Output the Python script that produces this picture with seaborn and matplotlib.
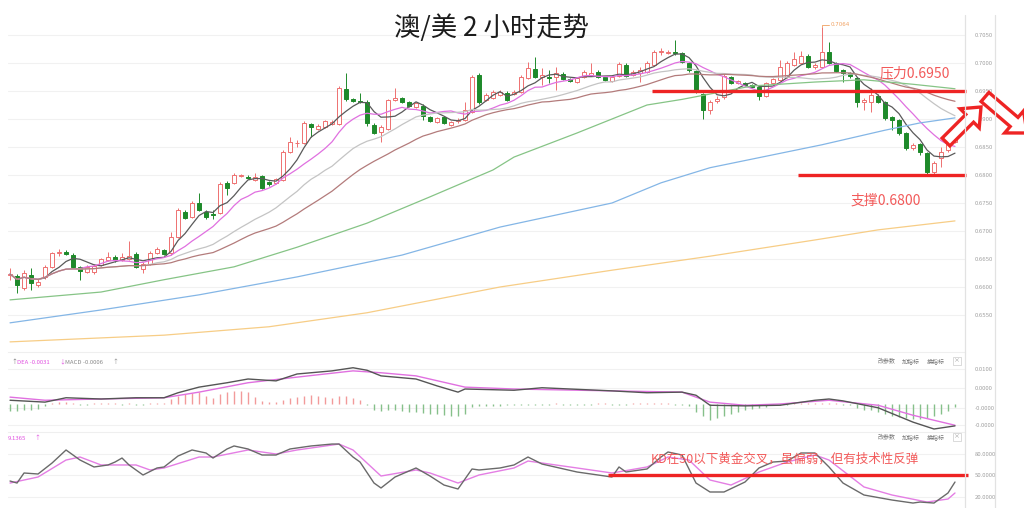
import numpy as np
import pandas as pd
import matplotlib
matplotlib.use("Agg")
import matplotlib.pyplot as plt
import seaborn as sns
from matplotlib.patches import FancyArrow
from matplotlib.lines import Line2D
from matplotlib.transforms import IdentityTransform
from matplotlib.ticker import FixedLocator, FixedFormatter

# ---------------- data ----------------
OPEN = [.6621,.6620,.6598,.6621,.6604,.6618,.6636,.6661,.6663,.6657,
        .6636,.6627,.6627,.6639,.6648,.6654,.6648,.6650,.6659,.6632,
        .6641,.6661,.6666,.6661,.6689,.6734,.6725,.6750,.6734,.6730,
        .6732,.6786,.6786,.6798,.6796,.6791,.6798,.6788,.6786,.6791,
        .6841,.6857,.6857,.6891,.6882,.6886,.6891,.6891,.6954,.6936,
        .6932,.6930,.6889,.6877,.6882,.6934,.6937,.6930,.6921,.6923,
        .6904,.6895,.6904,.6889,.6896,.6898,.6912,.6979,.6934,.6937,
        .6943,.6946,.6945,.6948,.6973,.6989,.6975,.6975,.6975,.6980,
        .6971,.6966,.6975,.6979,.6984,.6975,.6968,.6977,.6996,.6979,
        .6982,.6984,.6996,.7020,.7018,.7020,.7018,.7000,.6986,.6945,
        .6916,.6932,.6939,.6975,.6964,.6964,.6961,.6957,.6941,.6964,
        .6970,.6975,.6996,.7000,.7012,.6993,.6993,.7020,.7000,.6987,
        .6982,.6973,.6930,.6930,.6941,.6930,.6904,.6898,.6875,.6848,
        .6855,.6839,.6805,.6830,.6845,.6859]
CLOSE = [.6623,.6604,.6625,.6607,.6609,.6636,.6661,.6663,.6659,.6636,
         .6629,.6636,.6638,.6650,.6654,.6648,.6654,.6655,.6636,.6641,
         .6661,.6668,.6659,.6689,.6738,.6723,.6750,.6738,.6725,.6729,
         .6784,.6777,.6800,.6800,.6795,.6796,.6777,.6784,.6793,.6841,
         .6859,.6858,.6893,.6886,.6887,.6896,.6895,.6955,.6936,.6932,
         .6930,.6893,.6875,.6886,.6934,.6937,.6930,.6923,.6929,.6905,
         .6896,.6902,.6893,.6895,.6898,.6916,.6975,.6930,.6943,.6948,
         .6948,.6934,.6948,.6975,.6991,.6975,.6979,.6973,.6982,.6971,
         .6968,.6973,.6984,.6982,.6975,.6970,.6975,.6998,.6977,.6984,
         .6987,.7000,.7020,.7021,.7020,.7018,.7002,.6987,.6948,.6916,
         .6930,.6936,.6977,.6964,.6968,.6961,.6957,.6941,.6964,.6971,
         .6993,.7000,.7007,.7012,.6993,.6996,.7020,.7000,.6986,.6982,
         .6977,.6930,.6934,.6943,.6930,.6902,.6898,.6875,.6848,.6854,
         .6841,.6805,.6821,.6841,.6857,.6871]
HIGH = [.6634,.6623,.6630,.6634,.6614,.6639,.6663,.6668,.6666,.6661,
        .6638,.6639,.6641,.6652,.6663,.6657,.6661,.6682,.6663,.6645,
        .6664,.6671,.6668,.6698,.6741,.6738,.6754,.6768,.6738,.6738,
        .6787,.6789,.6804,.6802,.6800,.6804,.6800,.6789,.6795,.6845,
        .6868,.6863,.6896,.6893,.6891,.6898,.6898,.6959,.6982,.6937,
        .6946,.6934,.6893,.6889,.6936,.6955,.6939,.6932,.6930,.6927,
        .6905,.6904,.6905,.6896,.6902,.6930,.6979,.6982,.6946,.6952,
        .6952,.6950,.6952,.6979,.7002,.7011,.6991,.6987,.6993,.6984,
        .6973,.6975,.6987,.7000,.6987,.6977,.6977,.7002,.7000,.6987,
        .6993,.7004,.7023,.7027,.7023,.7041,.7020,.7002,.6987,.6946,
        .6934,.6941,.6980,.6977,.6970,.6966,.6963,.6959,.6966,.6973,
        .7005,.7004,.7020,.7021,.7016,.7000,.7064,.7038,.7002,.6989,
        .6984,.6975,.6937,.6955,.6945,.6932,.6905,.6900,.6877,.6857,
        .6857,.6841,.6825,.6850,.6866,.6879]
LOW = [.6613,.6589,.6595,.6595,.6600,.6614,.6634,.6655,.6657,.6634,
       .6613,.6625,.6623,.6638,.6646,.6645,.6646,.6648,.6634,.6625,
       .6639,.6659,.6657,.6657,.6687,.6721,.6723,.6736,.6721,.6721,
       .6730,.6764,.6784,.6796,.6793,.6789,.6775,.6780,.6784,.6789,
       .6839,.6850,.6855,.6868,.6880,.6884,.6889,.6889,.6932,.6930,
       .6929,.6887,.6873,.6859,.6880,.6932,.6929,.6921,.6920,.6898,
       .6895,.6893,.6891,.6887,.6893,.6896,.6911,.6927,.6932,.6936,
       .6941,.6932,.6943,.6946,.6971,.6973,.6961,.6964,.6952,.6970,
       .6966,.6964,.6973,.6977,.6973,.6968,.6966,.6975,.6975,.6977,
       .6966,.6982,.6995,.7014,.7016,.7014,.7000,.6984,.6946,.6900,
       .6909,.6929,.6936,.6963,.6963,.6959,.6955,.6934,.6939,.6963,
       .6968,.6973,.6995,.6998,.6991,.6989,.6991,.6998,.6984,.6966,
       .6973,.6921,.6916,.6912,.6929,.6898,.6880,.6871,.6845,.6845,
       .6836,.6802,.6800,.6814,.6841,.6857]

# long moving averages (bar index, price)
MA60_IDX = [0, 13, 22, 32, 41, 51, 60, 69, 72, 81, 91, 96, 101, 106, 115, 122, 129, 135]
MA60_VAL = [.6577, .6591, .6613, .6636, .6671, .6714, .6761, .6809, .6832, .6875,
            .6925, .6935, .6947, .6959, .6966, .6970, .6962, .6954]
MA120_IDX = [0, 13, 27, 41, 56, 70, 86, 93, 100, 116, 125, 130, 135]
MA120_VAL = [.6536, .6559, .6586, .6618, .6657, .6707, .6750, .6786, .6813, .6854, .6880, .6893, .6902]
MA250_IDX = [0, 22, 37, 51, 70, 86, 100, 115, 124, 135]
MA250_VAL = [.6502, .6514, .6529, .6554, .6600, .6630, .6655, .6684, .6702, .6718]

# MACD
DIF_IDX = [0, 5, 8, 13, 18, 22, 24, 27, 31, 34, 38, 41, 46, 49, 51, 53, 58, 61, 64, 65, 72, 76,
           86, 91, 96, 98, 100, 105, 110, 115, 117, 119, 124, 129, 132, 135]
DIF_VAL = [0.0006, 0.0003, 0.0010, 0.0008, 0.0010, 0.0010, 0.0018, 0.0027, 0.0034, 0.0040, 0.0037,
           0.0048, 0.0053, 0.0058, 0.0054, 0.0045, 0.0040, 0.0029, 0.0019, 0.0024, 0.0022, 0.0026,
           0.0021, 0.0018, 0.0019, 0.0014, -0.0002, -0.0003, -0.0002, 0.0006, 0.0008, 0.0005,
           -0.0006, -0.0029, -0.0040, -0.0035]
DEA_IDX = [0, 5, 13, 22, 27, 34, 41, 49, 53, 58, 65, 72, 86, 96, 100, 105, 110, 117, 124, 129, 135]
DEA_VAL = [0.0011, 0.0006, 0.0008, 0.0010, 0.0019, 0.0034, 0.0043, 0.0053, 0.0050, 0.0045, 0.0027,
           0.0024, 0.0021, 0.0019, 0.0003, -0.0002, 0.0000, 0.0006, -0.0002, -0.0018, -0.0034]
MACD_HIST = [-0.0011, -0.0011, -0.0010, -0.0010, -0.0008, -0.0003,
             0.0002, 0.0003, 0.0003, 0.0002, -0.0002, -0.0002, 0.0002, 0.0002, 0.0001, 0.0002,
             -0.0001, 0.0001, -0.0002, -0.0002, 0.0001, 0.0002, 0.0002,
             0.0008, 0.0013, 0.0016, 0.0018, 0.0019, 0.0013, 0.0010, 0.0016, 0.0019, 0.0021,
             0.0021, 0.0019, 0.0011, 0.0005, 0.0003, 0.0003, 0.0006, 0.0010, 0.0011, 0.0013,
             0.0014, 0.0013, 0.0011, 0.0010, 0.0013, 0.0013, 0.0010, 0.0006, -0.0002,
             -0.0010, -0.0011, -0.0010, -0.0010, -0.0011, -0.0013, -0.0013, -0.0014, -0.0016,
             -0.0016, -0.0018, -0.0019, -0.0019, -0.0016, -0.0005, -0.0003,
             -0.0003, -0.0003, -0.0003, -0.0002, -0.0002, -0.0002, -0.0001, -0.0002, -0.0002,
             -0.0001, 0.0001, -0.0001, -0.0002, -0.0002, -0.0001, -0.0001, 0.0001, 0.0001,
             -0.0001, -0.0002, -0.0001, 0.0001, 0.0002, 0.0002, 0.0001, 0.0002, 0.0001,
             -0.0001, -0.0002, -0.0003,
             -0.0013, -0.0019, -0.0026, -0.0022, -0.0019, -0.0016, -0.0013, -0.0010, -0.0008,
             -0.0006, -0.0005,
             -0.0002, -0.0002, -0.0001, 0.0001, 0.0002, 0.0002, 0.0002, 0.0002, 0.0002, 0.0001,
             -0.0001, -0.0002,
             -0.0006, -0.0010, -0.0010, -0.0013, -0.0016, -0.0019, -0.0021, -0.0022, -0.0024,
             -0.0024, -0.0022, -0.0019, -0.0016, -0.0011, -0.0005]

# KD
K_IDX = [0, 1, 2, 4, 6, 8, 10, 12, 14, 15, 16, 17, 19, 21, 22, 24, 26, 28, 29, 31, 32, 34, 36,
         38, 40, 41, 43, 46, 47, 49, 50, 52, 53, 55, 58, 60, 62, 64, 66, 67, 70, 72, 74, 76,
         81, 84, 86, 87, 88, 91, 93, 94, 96, 98, 100, 102, 105, 107, 109, 111, 113, 115, 117,
         119, 122, 126, 129, 130, 132, 134, 135]
K_VAL = [41.6, 38.8, 52.8, 51.4, 66.7, 84.9, 70.9, 61.2, 64.0, 68.1, 73.7, 64.0, 50.0, 59.8,
         61.2, 76.5, 84.9, 80.7, 73.7, 86.3, 90.5, 86.3, 77.9, 77.9, 86.3, 87.7, 90.5, 93.2,
         93.2, 75.1, 68.1, 38.8, 31.9, 47.2, 59.8, 48.6, 36.0, 30.5, 58.4, 57.0, 59.8, 64.0,
         75.1, 65.3, 54.2, 50.0, 47.2, 61.2, 54.2, 58.4, 75.1, 82.1, 77.9, 38.8, 26.3, 26.3,
         40.2, 59.8, 68.1, 69.5, 80.7, 80.7, 61.2, 38.8, 22.1, 15.1, 10.9, 12.3, 10.9, 24.9, 40.2]
D_IDX = [0, 4, 8, 10, 13, 18, 20, 22, 27, 29, 34, 38, 41, 47, 49, 51, 53, 58, 60, 64, 67, 72,
         74, 81, 86, 91, 94, 97, 100, 103, 107, 111, 115, 117, 122, 126, 131, 134, 135]
D_VAL = [38.8, 47.2, 70.9, 75.1, 64.0, 64.0, 57.0, 59.8, 75.1, 75.1, 84.9, 79.3, 84.9, 93.2,
         84.9, 66.7, 48.6, 57.0, 52.8, 38.8, 50.0, 59.8, 69.5, 59.8, 52.8, 61.2, 75.1, 70.9,
         43.0, 36.0, 54.2, 68.1, 77.9, 70.9, 33.3, 22.1, 12.3, 16.5, 24.9]

PRICE_TICKS = [0.655, 0.660, 0.665, 0.670, 0.675, 0.680, 0.685, 0.690, 0.695, 0.700, 0.705]
MACD_TICKS = [0.0056, 0.00256, -0.00064, -0.00336]
MACD_TICK_LABELS = ["0.0100", "0.0000", "-0.0000", "-0.0000"]
KD_TICKS = [80, 50, 20]
KD_TICK_LABELS = ["80.0000", "50.0000", "20.0000"]

RESIST = 0.6950
SUPPORT = 0.6800
KD_LEVEL = 50
PEAK = 0.7064

# ---------------- style ----------------
sns.set_theme(style="white")
plt.rcParams['font.family'] = ['Noto Sans CJK SC', 'DejaVu Sans']
plt.rcParams['axes.unicode_minus'] = False

RED_C = '#ee7070'
GREEN_C = '#1e8a2a'
LINE_RED = '#ee2424'
TXT_RED = '#f25a5a'

W, HH = 1024, 508
fig = plt.figure(figsize=(10.24, 5.08), dpi=100)
fig.patch.set_facecolor('white')


def fx(x):
    return x / W


def fy(y):
    return 1 - y / HH


L0, R0 = 8, 965
ax = fig.add_axes([fx(L0), fy(350), fx(R0) - fx(L0), fy(15) - fy(350)])
axm = fig.add_axes([fx(L0), fy(432), fx(R0) - fx(L0), fy(352) - fy(432)])
axk = fig.add_axes([fx(L0), fy(508), fx(R0) - fx(L0), fy(432) - fy(508)])

N = len(CLOSE)
idx = np.arange(N)
O = np.array(OPEN); C = np.array(CLOSE); Hh = np.array(HIGH); Lo = np.array(LOW)
XLIM = (-0.29, 136.43)

# ---- candles ----
up = C >= O
edge = np.where(up, RED_C, GREEN_C)
face = np.where(up, 'white', GREEN_C)
ax.vlines(idx, Lo, Hh, colors=edge, lw=0.7, zorder=2)
body_b = np.minimum(O, C)
body_h = np.maximum(np.abs(C - O), 0.00004)
ax.bar(idx, body_h, bottom=body_b, width=0.62, color=face, edgecolor=edge,
       linewidth=0.7, zorder=2.5)

# ---- moving averages ----
cs = pd.Series(C)
ma_specs = [(5, '#5a5a5a', 0.9), (10, '#e070e0', 0.9), (20, '#c4c4c4', 0.9), (30, '#b37b7b', 0.9)]
for w, col, lw in ma_specs:
    ma = cs.rolling(w, min_periods=1).mean().values
    sns.lineplot(x=idx, y=ma, ax=ax, color=col, linewidth=lw, zorder=3, legend=False)
sns.lineplot(x=MA60_IDX, y=MA60_VAL, ax=ax, color='#86c486', linewidth=0.9, zorder=3)
sns.lineplot(x=MA120_IDX, y=MA120_VAL, ax=ax, color='#84b6e6', linewidth=0.9, zorder=3)
sns.lineplot(x=MA250_IDX, y=MA250_VAL, ax=ax, color='#f7cd86', linewidth=0.9, zorder=3)

# ---- support / resistance ----
ax.plot([91.7, 136.6], [RESIST, RESIST], color=LINE_RED, lw=2.4, zorder=4, clip_on=False,
        solid_capstyle='butt')
ax.plot([112.6, 136.6], [SUPPORT, SUPPORT], color=LINE_RED, lw=2.4, zorder=4, clip_on=False,
        solid_capstyle='butt')

# peak marker
pk = int(np.argmax(Hh))
ax.plot([pk, pk, pk + 1.0], [PEAK, PEAK + 0.0004, PEAK + 0.0004], color='#f0a060', lw=0.6,
        zorder=4, clip_on=False)
ax.text(pk + 1.3, PEAK + 0.0004, "0.7064", color='#f0a060', fontsize=4, va='center',
        ha='left', family=['DejaVu Sans'])

ax.set_xlim(*XLIM)
ax.set_ylim(0.64875, 0.70857)
ax.yaxis.set_major_locator(FixedLocator(PRICE_TICKS))
ax.yaxis.set_major_formatter(FixedFormatter([f"{t:.4f}" for t in PRICE_TICKS]))

# ---- MACD ----
hist = np.array(MACD_HIST)
axm.vlines(idx, 0, hist, colors=np.where(hist >= 0, '#f29a9a', '#86c08a'), lw=1.0, zorder=2)
sns.lineplot(x=DEA_IDX, y=DEA_VAL, ax=axm, color='#e070e0', linewidth=1.0, zorder=3)
sns.lineplot(x=DIF_IDX, y=DIF_VAL, ax=axm, color='#555555', linewidth=1.0, zorder=3)
axm.set_xlim(*XLIM)
axm.set_ylim(-0.00448, 0.00832)
axm.yaxis.set_major_locator(FixedLocator(MACD_TICKS))
axm.yaxis.set_major_formatter(FixedFormatter(MACD_TICK_LABELS))

# ---- KD ----
sns.lineplot(x=D_IDX, y=D_VAL, ax=axk, color='#e47ee4', linewidth=1.0, zorder=3)
sns.lineplot(x=K_IDX, y=K_VAL, ax=axk, color='#6a6a6a', linewidth=1.0, zorder=3)
axk.plot([85.4, 136.9], [KD_LEVEL, KD_LEVEL], color=LINE_RED, lw=2.4, zorder=4, clip_on=False,
         solid_capstyle='butt')
axk.set_xlim(*XLIM)
axk.set_ylim(3.97, 110.0)
axk.yaxis.set_major_locator(FixedLocator(KD_TICKS))
axk.yaxis.set_major_formatter(FixedFormatter(KD_TICK_LABELS))

for a in (ax, axm, axk):
    a.set_facecolor('none')
    a.set_xticks([])
    a.yaxis.tick_right()
    a.tick_params(axis='y', labelsize=4.3, colors='#a0a0a0', length=0, pad=7)
    a.grid(True, axis='y', color='#f1f1f1', lw=0.8, zorder=0)
    a.set_xlabel(''); a.set_ylabel('')
    for s in a.spines.values():
        s.set_visible(False)
for a in (axm, axk):
    a.spines['top'].set_visible(True)
    a.spines['top'].set_color('#efefef')
    a.spines['top'].set_linewidth(0.8)

# vertical frame lines at right
for xv in (R0, 995):
    fig.add_artist(Line2D([fx(xv), fx(xv)], [fy(15), 0], color='#e2e2e2', lw=0.9))

# ---- texts ----
fig.text(fx(491), fy(28), "澳/美 2 小时走势", ha='center', va='center', fontsize=19,
         color='#1c1c1c')
fig.text(fx(915), fy(73), "压力0.6950", ha='center', va='center', fontsize=10, color=TXT_RED)
fig.text(fx(886), fy(201), "支撑0.6800", ha='center', va='center', fontsize=10, color=TXT_RED)
fig.text(fx(785), fy(459), "KD在50以下黄金交叉，虽偏弱，但有技术性反弹", ha='center',
         va='center', fontsize=9, color=TXT_RED, zorder=10)

# panel headers
fs_small = 4.3
fig.text(fx(11), fy(362), "↑", fontsize=fs_small, color='#777777', va='center', ha='left')
fig.text(fx(17), fy(362), "DEA -0.0031", fontsize=fs_small, color='#e050e0', va='center', ha='left')
fig.text(fx(59), fy(362), "↓", fontsize=fs_small, color='#e050e0', va='center', ha='left')
fig.text(fx(65), fy(362), "MACD -0.0006", fontsize=fs_small, color='#888888', va='center', ha='left')
fig.text(fx(112), fy(362), "↑", fontsize=fs_small, color='#888888', va='center', ha='left')
fig.text(fx(8), fy(438), "9.1365", fontsize=fs_small, color='#e050e0', va='center', ha='left')
fig.text(fx(34), fy(438), "↑", fontsize=fs_small, color='#e050e0', va='center', ha='left')

for yb in (361, 437):
    fig.text(fx(878), fy(yb), "改参数", fontsize=fs_small, color='#777777', va='center', ha='left')
    fig.text(fx(902), fy(yb), "加指标", fontsize=fs_small, color='#777777', va='center', ha='left')
    fig.text(fx(927), fy(yb), "换指标", fontsize=fs_small, color='#777777', va='center', ha='left')
    fig.text(fx(957), fy(yb), "×", fontsize=fs_small, color='#999999', va='center', ha='center',
             bbox=dict(boxstyle='square,pad=0.25', fc='white', ec='#cccccc', lw=0.5))

# ---- hollow arrows ----
ident = IdentityTransform()
a1 = FancyArrow(946, HH - 142, 35, 35, width=11, head_width=27, head_length=16,
                length_includes_head=True, fc='white', ec=LINE_RED, lw=2.4, transform=ident)
a2 = FancyArrow(985, HH - 97, 42, -36, width=12, head_width=29, head_length=17,
                length_includes_head=True, fc='white', ec=LINE_RED, lw=2.4, transform=ident)
fig.add_artist(a1)
fig.add_artist(a2)

fig.savefig("out.png", dpi=100, facecolor='white')
